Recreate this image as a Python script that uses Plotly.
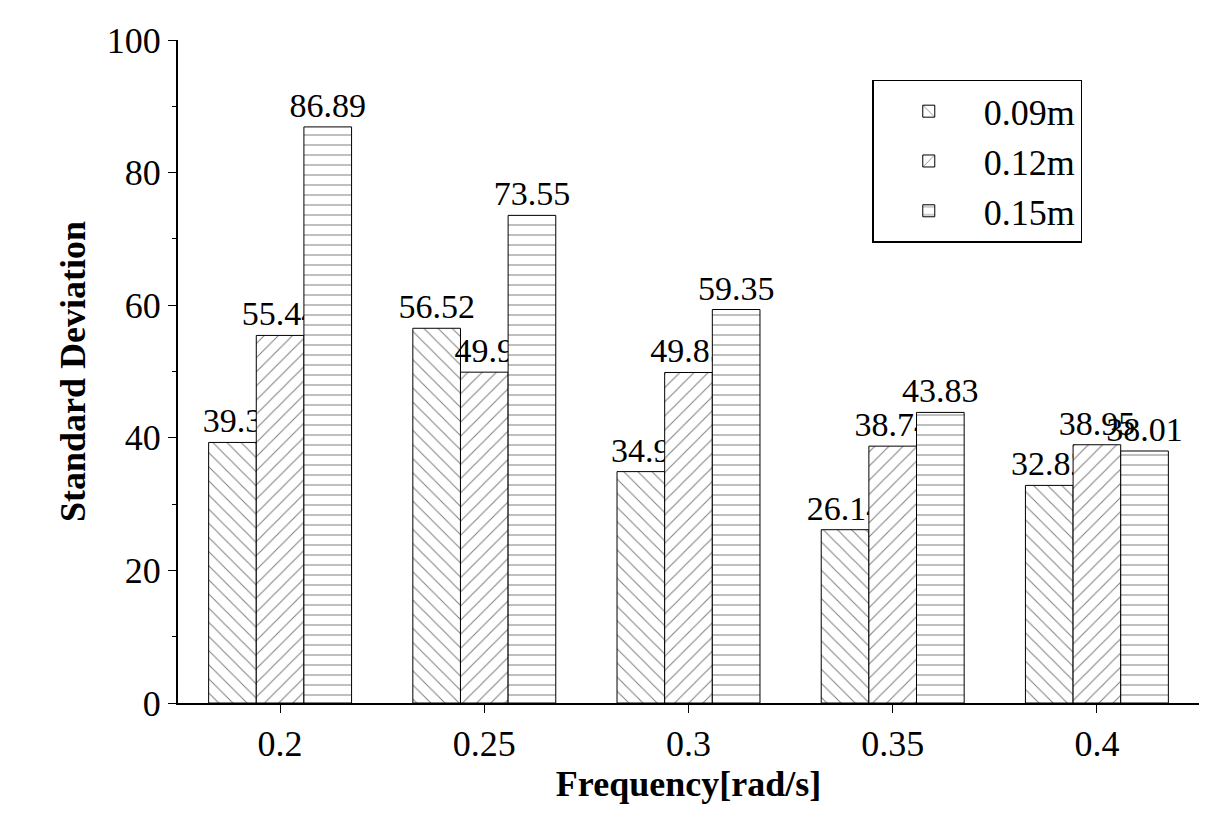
import plotly.graph_objects as go

categories = ["0.2", "0.25", "0.3", "0.35", "0.4"]
s009 = [39.3, 56.52, 34.9, 26.14, 32.82]
s012 = [55.44, 49.9, 49.85, 38.74, 38.95]
s015 = [86.89, 73.55, 59.35, 43.83, 38.01]
names = ["0.09m", "0.12m", "0.15m"]
shapes = ["\\", "/", "-"]

fig = go.Figure()
for name, vals, sh in zip(names, [s009, s012, s015], shapes):
    fig.add_trace(go.Bar(
        x=categories, y=vals, name=name,
        text=[str(v) for v in vals], textposition="outside", cliponaxis=False,
        constraintext="none", textangle=0,
        textfont=dict(size=34, color="black", family="Liberation Serif"),
        marker=dict(color="white", line=dict(color="black", width=1),
                    pattern=dict(shape=sh, fgcolor="black", bgcolor="white", size=10, solidity=0.1)),
    ))

fig.update_layout(
    width=1231, height=825, barmode="group", bargap=0.3, bargroupgap=0,
    plot_bgcolor="white", paper_bgcolor="white",
    font=dict(family="Liberation Serif", size=34, color="black"),
    margin=dict(l=170, r=40, t=32, b=130),
    legend=dict(x=0.68, y=0.94, xanchor="left", yanchor="top", bordercolor="black", borderwidth=1.5,
                font=dict(size=36), itemwidth=100, tracegroupgap=0),
    xaxis=dict(title=dict(text="<b>Frequency[rad/s]</b>", standoff=5, font=dict(size=36)), showline=True,
               linecolor="black", linewidth=2, ticks="outside", ticklen=8, tickcolor="black",
               tickfont=dict(size=36)),
    yaxis=dict(title=dict(text="<b>Standard Deviation</b>", standoff=10, font=dict(size=36)), range=[0, 100],
               dtick=20, showline=True, linecolor="black", linewidth=2, ticks="outside", ticklen=8,
               tickcolor="black", showgrid=False, zeroline=False, tickfont=dict(size=36),
               minor=dict(ticks="outside", ticklen=4, dtick=10, tickcolor="black")),
)
fig.write_html("out.html")
